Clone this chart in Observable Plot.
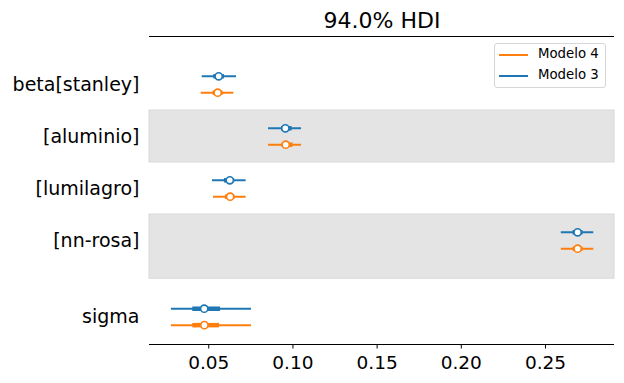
<!DOCTYPE html>
<html>
<head>
<meta charset="utf-8">
<script src="https://cdn.jsdelivr.net/npm/d3@7"></script>
<script src="https://cdn.jsdelivr.net/npm/@observablehq/plot@0.6"></script>
<style>
  html, body { margin: 0; padding: 0; background: #fff; }
  #wrap { position: relative; width: 624px; height: 383px; font-family: "DejaVu Sans", sans-serif; }
  #legend { position: absolute; left: 494px; top: 43px; width: 112px; height: 45px;
    border: 1px solid #d6d6d6; border-radius: 3px; background: rgba(255,255,255,0.8); box-sizing: border-box; }
  .item { position: absolute; left: 0; height: 20px; font-size: 13.3px; color: #000; }
  .item .sw { position: absolute; left: 4px; width: 29px; height: 0; border-top: 2px solid; }
  .item .lb { position: absolute; left: 43px; white-space: nowrap; }
</style>
</head>
<body>
<div id="wrap"></div>
<script>
// ---- data ----
const params = ["beta[stanley]", "[aluminio]", "[lumilagro]", "[nn-rosa]", "sigma"];
const models = ["Modelo 3", "Modelo 4"];
const legendOrder = ["Modelo 4", "Modelo 3"];
const colors = ["#1f77b4", "#ff7f0e"];
const title = "94.0% HDI";
const xTicks = [0.05, 0.10, 0.15, 0.20, 0.25];

const m3Median = [0.0559, 0.0955, 0.0625, 0.2691, 0.0473];
const m3Low94  = [0.0461, 0.0855, 0.0522, 0.2594, 0.0278];
const m3High94 = [0.0665, 0.1051, 0.0722, 0.2787, 0.0754];
const m3Low50  = [0.0530, 0.0932, 0.0593, 0.2664, 0.0405];
const m3High50 = [0.0593, 0.0995, 0.0654, 0.2723, 0.0570];

const m4Median = [0.0553, 0.0957, 0.0627, 0.2691, 0.0474];
const m4Low94  = [0.0455, 0.0855, 0.0528, 0.2594, 0.0278];
const m4High94 = [0.0649, 0.1051, 0.0722, 0.2787, 0.0754];
const m4Low50  = [0.0526, 0.0936, 0.0599, 0.2664, 0.0405];
const m4High50 = [0.0585, 0.1001, 0.0656, 0.2723, 0.0564];

// ---- layout helpers ----
const varGap = 0.47;          // extra space between different variables (beta vs sigma)
const rowPos = params.map((p, i) => i + (p === "sigma" ? varGap : 0));
const modelOffset = {"Modelo 3": -0.158, "Modelo 4": 0.158};
const yTop = -0.923, yBottom = 5.0;

const series = [
  {model: "Modelo 3", med: m3Median, lo94: m3Low94, hi94: m3High94, lo50: m3Low50, hi50: m3High50},
  {model: "Modelo 4", med: m4Median, lo94: m4Low94, hi94: m4High94, lo50: m4Low50, hi50: m4High50}
];
const rows = [];
for (const s of series) {
  params.forEach((p, i) => rows.push({
    param: p, model: s.model, y: rowPos[i] + modelOffset[s.model],
    med: s.med[i], lo94: s.lo94[i], hi94: s.hi94[i], lo50: s.lo50[i], hi50: s.hi50[i]
  }));
}
// alternating shaded bands (odd rows), edges at midpoints between rows
const bands = [];
rowPos.forEach((y, i) => {
  if (i % 2 === 1) {
    const prev = rowPos[i - 1], next = i + 1 < rowPos.length ? rowPos[i + 1] : y + 1;
    bands.push({y1: (prev + y) / 2, y2: (y + next) / 2});
  }
});
const labels = params.map((p, i) => ({label: p, y: rowPos[i]}));

const chart = Plot.plot({
  width: 624,
  height: 383,
  marginLeft: 149,
  marginRight: 10,
  marginTop: 36,
  marginBottom: 39,
  style: {fontFamily: "DejaVu Sans, sans-serif", background: "white", color: "black"},
  x: {domain: [0.0148, 0.291]},
  y: {domain: [yBottom, yTop], axis: null},
  color: {domain: models, range: colors},
  marks: [
    Plot.rect(bands, {y1: "y1", y2: "y2", fill: "#e4e4e4", stroke: "#d8d8d8", strokeWidth: 1}),
    Plot.ruleY(rows, {y: "y", x1: "lo94", x2: "hi94", stroke: "model", strokeWidth: 2}),
    Plot.ruleY(rows, {y: "y", x1: "lo50", x2: "hi50", stroke: "model", strokeWidth: 4.5}),
    Plot.dot(rows, {x: "med", y: "y", r: 3.6, fill: "white", stroke: "model", strokeWidth: 1.6}),
    Plot.text(labels, {y: "y", text: "label", frameAnchor: "left", textAnchor: "end", dx: -10, fontSize: 19, fill: "black"}),
    Plot.ruleY([yTop], {stroke: "black", strokeWidth: 1}),
    Plot.ruleY([yBottom], {stroke: "black", strokeWidth: 1}),
    Plot.axisX({ticks: xTicks, tickFormat: d3.format(".2f"), tickSize: 4.5, tickPadding: 7, fontSize: 18.5, stroke: "black", fill: "black", label: null}),
    Plot.text([title], {frameAnchor: "top", lineAnchor: "middle", dy: -16, fontSize: 22, fill: "black"})
  ]
});

const wrap = document.getElementById("wrap");
wrap.appendChild(chart);

// legend overlay
const legend = document.createElement("div");
legend.id = "legend";
legendOrder.forEach((m, k) => {
  const it = document.createElement("div");
  it.className = "item";
  it.style.top = (2 + k * 21.4) + "px";
  const sw = document.createElement("span");
  sw.className = "sw";
  sw.style.borderTopColor = colors[models.indexOf(m)];
  sw.style.top = "8px";
  const lb = document.createElement("span");
  lb.className = "lb";
  lb.style.top = "0px";
  lb.textContent = m;
  it.appendChild(sw); it.appendChild(lb);
  legend.appendChild(it);
});
wrap.appendChild(legend);
</script>
</body>
</html>
